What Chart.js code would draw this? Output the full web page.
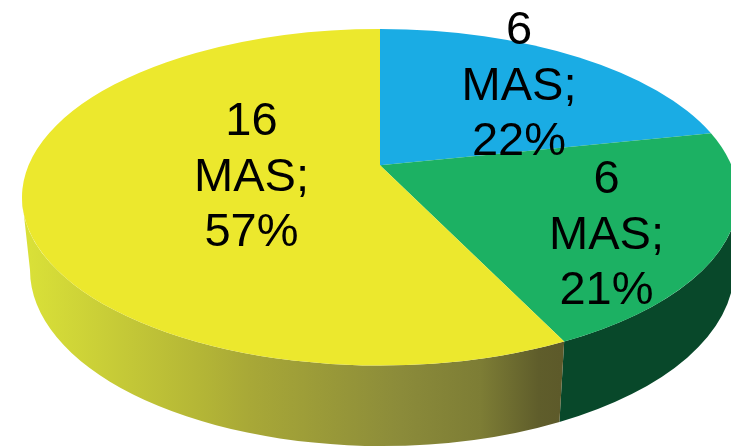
<!DOCTYPE html>
<html>
<head>
<meta charset="utf-8">
<script src="https://cdn.jsdelivr.net/npm/chart.js@4"></script>
<style>
  html, body { margin: 0; padding: 0; background: #fff; overflow: hidden; }
  canvas { display: block; }
</style>
</head>
<body>
<canvas id="myChart" width="731" height="446"></canvas>
<script>
// data
const categories = ['6 MAS', '6 MAS', '16 MAS'];
const shares = [21.7, 21.15, 57.15];

// styles
const topColors = ['#1aace4', '#1cb163', '#ece82d'];
const wallColors = ['#0a4a6a', '#08482a', null]; // null = yellow gradient below

// where the three-line labels sit: centre x and first baseline
const labelPos = [[519, 44], [606.5, 193], [251.5, 135]];

// perspective pie: top and bottom rims, apex is above the centre of the top rim
const topRim = { x: 380, y: 197.3, rx: 358, ry: 168.3 };
const baseRim = { x: 382, y: 270, rx: 352, ry: 176 };
const skew = -0.19;
const baseLean = 0.012; // wall seams lean a little towards the viewer

// pie angle -> angle on the rim ellipse (circle-to-circle homography)
function rimAngle(t) {
  const d = 1 + skew * Math.sin(t);
  const ux = Math.cos(t) * Math.sqrt(1 - skew * skew) / d;
  const uy = (Math.sin(t) + skew) / d;
  const a = Math.atan2(uy, ux);
  // keep the angle continuous with t
  return a + 2 * Math.PI * Math.round((t - a) / (2 * Math.PI));
}

function yellowWall(ctx) {
  const g = ctx.createLinearGradient(30, 0, 560, 0);
  g.addColorStop(0, '#d9e038');
  g.addColorStop(0.32, '#b4b636');
  g.addColorStop(0.415, '#a8a837');
  g.addColorStop(0.7, '#8b8b3a');
  g.addColorStop(0.85, '#7d7d35');
  g.addColorStop(0.96, '#5f5d2b');
  g.addColorStop(1, '#5d5a2a');
  return g;
}

const perspectivePie = {
  id: 'perspectivePie',
  beforeDatasetDraw(chart, args) {
    const ctx = chart.ctx;
    const arcs = args.meta.data;
    ctx.save();

    // side wall, only the front half of the rim shows
    arcs.forEach((arc, i) => {
      const from = Math.max(rimAngle(arc.startAngle), 0);
      const to = Math.min(rimAngle(arc.endAngle), Math.PI);
      if (to <= from) return;
      const baseFrom = from + baseLean;
      const baseTo = Math.min(to + baseLean, Math.PI);
      ctx.beginPath();
      ctx.ellipse(topRim.x, topRim.y, topRim.rx, topRim.ry, 0, from, to);
      ctx.ellipse(baseRim.x, baseRim.y, baseRim.rx, baseRim.ry, 0, baseTo, from === 0 ? 0 : baseFrom, true);
      ctx.closePath();
      ctx.fillStyle = wallColors[i] || yellowWall(ctx);
      ctx.fill();
    });

    // top face
    const apexY = topRim.y + skew * topRim.ry;
    arcs.forEach((arc, i) => {
      ctx.beginPath();
      ctx.moveTo(topRim.x, apexY);
      ctx.ellipse(topRim.x, topRim.y, topRim.rx, topRim.ry, 0,
        rimAngle(arc.startAngle), rimAngle(arc.endAngle));
      ctx.closePath();
      ctx.fillStyle = topColors[i];
      ctx.fill();
    });

    ctx.restore();
    return false;
  },
  afterDatasetsDraw(chart) {
    const ctx = chart.ctx;
    ctx.save();
    ctx.fillStyle = '#000';
    ctx.font = '47px "Liberation Sans", Arial, sans-serif';
    ctx.textAlign = 'center';
    ctx.textBaseline = 'alphabetic';
    categories.forEach((cat, i) => {
      const parts = cat.split(' ');
      const lines = [parts[0], parts[1] + ';', Math.round(shares[i]) + '%'];
      lines.forEach((line, n) => {
        ctx.fillText(line, labelPos[i][0], labelPos[i][1] + n * 55.5);
      });
    });
    ctx.restore();
  }
};

const ctx = document.getElementById('myChart').getContext('2d');
new Chart(ctx, {
  type: 'pie',
  data: {
    labels: categories,
    datasets: [{ data: shares, backgroundColor: topColors, borderWidth: 0 }]
  },
  options: {
    responsive: false,
    animation: false,
    plugins: { legend: { display: false }, tooltip: { enabled: false } }
  },
  plugins: [perspectivePie]
});
</script>
</body>
</html>
